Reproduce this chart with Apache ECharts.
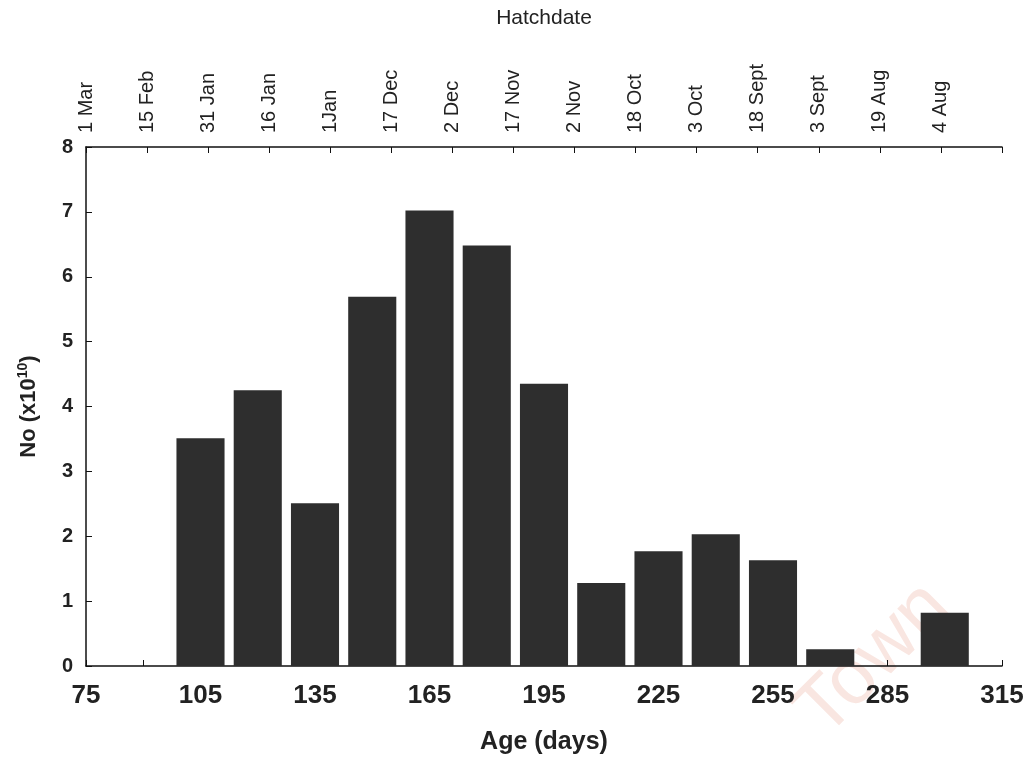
<!DOCTYPE html>
<html>
<head>
<meta charset="utf-8">
<script src="https://cdn.jsdelivr.net/npm/echarts@6/dist/echarts.min.js"></script>
<style>
  html, body { margin: 0; padding: 0; background: #fff; }
  #chart { width: 1032px; height: 757px; }
</style>
</head>
<body>
<div id="chart"></div>
<script>
// Age classes (days) and abundance (x10^10)
const ages = [90, 105, 120, 135, 150, 165, 180, 195, 210, 225, 240, 255, 270, 285, 300];
const abundance = [0, 3.51, 4.25, 2.51, 5.69, 7.02, 6.48, 4.35, 1.28, 1.77, 2.03, 1.63, 0.26, 0, 0.82];
// Hatch-date labels along the top axis
const hatchLabels = ['1 Mar', '15 Feb', '31 Jan', '16 Jan', '1Jan', '17 Dec', '2 Dec', '17 Nov',
  '2 Nov', '18 Oct', '3 Oct', '18 Sept', '3 Sept', '19 Aug', '4 Aug', ''];

const font = '"Liberation Sans", Arial, Helvetica, sans-serif';
const chart = echarts.init(document.getElementById('chart'));

chart.setOption({
  backgroundColor: '#ffffff',
  animation: false,
  grid: { left: 86, right: 30, top: 147, bottom: 91, outerBoundsMode: 'none', containLabel: false },
  xAxis: [
    {
      type: 'value', position: 'bottom', min: 75, max: 315, interval: 30,
      name: 'Age (days)', nameLocation: 'middle', nameGap: 64,
      nameTextStyle: { fontFamily: font, fontSize: 25, fontWeight: 'bold', color: '#222' },
      axisLine: { show: true, lineStyle: { color: '#111', width: 1.5 } },
      axisTick: { show: true, inside: true, length: 6, lineStyle: { color: '#111' } },
      minorTick: { show: true, splitNumber: 2, length: 6, lineStyle: { color: '#111' } },
      axisLabel: { fontFamily: font, fontSize: 26, fontWeight: 'bold', color: '#222', margin: 17 },
      splitLine: { show: false }
    },
    {
      type: 'value', position: 'top', min: 0, max: 15, interval: 1,
      name: 'Hatchdate', nameLocation: 'middle', nameGap: 118,
      nameTextStyle: { fontFamily: font, fontSize: 21, color: '#222' },
      axisLine: { show: true, lineStyle: { color: '#111', width: 1.5 } },
      axisTick: { show: true, inside: true, length: 6, lineStyle: { color: '#111' } },
      axisLabel: {
        fontFamily: font, fontSize: 20, color: '#222', rotate: -90, margin: 14,
        formatter: v => hatchLabels[Math.round(v)] || ''
      },
      splitLine: { show: false }
    }
  ],
  yAxis: {
    type: 'value', min: 0, max: 8, interval: 1,
    name: '{b|No (x10}{s|10}{b|)}', nameLocation: 'middle', nameGap: 44,
    nameTextStyle: {
      rich: {
        b: { fontFamily: font, fontSize: 22, fontWeight: 'bold', color: '#222' },
        s: { fontFamily: font, fontSize: 14, fontWeight: 'bold', color: '#222', verticalAlign: 'bottom', padding: [0, 0, 12, 0] }
      }
    },
    axisLine: { show: true, lineStyle: { color: '#111', width: 1.5 } },
    axisTick: { show: true, inside: true, length: 6, lineStyle: { color: '#111' } },
    axisLabel: { fontFamily: font, fontSize: 20, fontWeight: 'bold', color: '#222', margin: 13 },
    splitLine: { show: false }
  },
  series: [{
    type: 'bar',
    xAxisIndex: 0,
    data: ages.map((a, i) => [a, abundance[i]]),
    barWidth: '84%',
    itemStyle: { color: '#2e2e2e' },
    emphasis: { disabled: true }
  }],
  graphic: [{
    type: 'text',
    left: 782, top: 568,
    rotation: Math.PI / 4,
    style: { text: 'Town', fontFamily: font, fontSize: 78, fill: '#f9e6e1' },
    z: -1
  }]
});
</script>
</body>
</html>
